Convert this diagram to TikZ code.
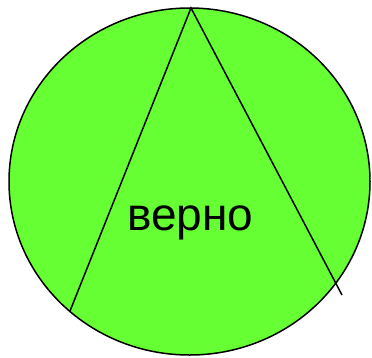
\documentclass[tikz,border=0pt]{standalone}
\usepackage{fontspec}
\usetikzlibrary{shapes.geometric}
\setmainfont{Liberation Sans}
\definecolor{fillgreen}{HTML}{66FF33}
\begin{document}
\begin{tikzpicture}[x=1pt,y=-1pt,line width=1.5pt]
\useasboundingbox (0,0) rectangle (372,357);
\node[draw,ellipse,fill=fillgreen,minimum width=361pt,minimum height=347pt,inner sep=0pt,line width=1.5pt] (c) at (189.5,181.5) {};
\coordinate (apex) at (191,8);
\coordinate (l) at (70,311);
\coordinate (r) at (342,295);
\draw (l) -- (apex) -- (r);
\node[font=\fontsize{46}{52}\selectfont,inner sep=0pt,anchor=base] (t) at (190.5,230) {верно};
\end{tikzpicture}
\end{document}
